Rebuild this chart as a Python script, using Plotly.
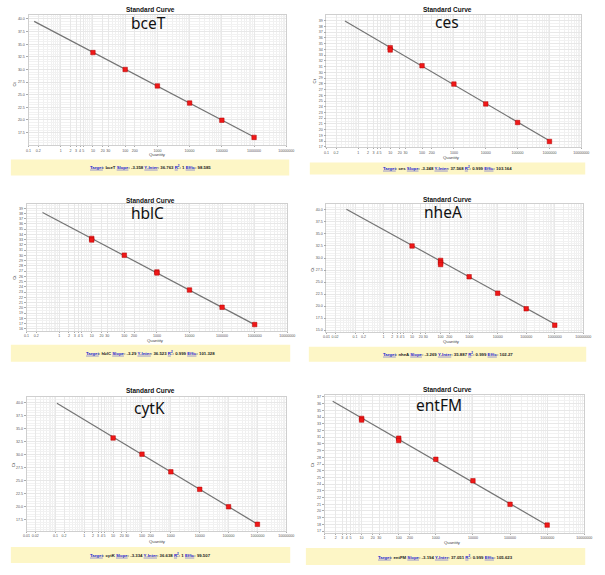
import math
import plotly.graph_objects as go

# ---------------- data ----------------
genes = ["bceT", "ces", "hblC", "nheA", "cytK", "entFM"]

qty_bceT = [10, 100, 1000, 10000, 100000, 1000000]
ct_bceT = [33.35, 30.0, 26.75, 23.35, 19.95, 16.55]

qty_ces = [10, 10, 100, 1000, 10000, 100000, 1000000]
ct_ces = [34.3, 33.9, 31.15, 27.95, 24.5, 21.25, 17.95]

qty_hblC = [10, 10, 100, 1000, 1000, 10000, 100000, 1000000]
ct_hblC = [33.25, 32.95, 30.05, 26.85, 26.65, 23.4, 20.1, 16.8]

qty_nheA = [10, 100, 100, 100, 1000, 10000, 100000, 1000000]
ct_nheA = [32.5, 29.5, 29.05, 28.65, 26.1, 22.7, 19.45, 16.05]

qty_cytK = [10, 100, 1000, 10000, 100000, 1000000]
ct_cytK = [33.15, 30.05, 26.65, 23.3, 19.95, 16.6]

qty_entFM = [10, 10, 100, 100, 1000, 10000, 100000, 1000000]
ct_entFM = [33.8, 33.55, 30.85, 30.5, 27.7, 24.5, 21.0, 17.9]

slopes = [-3.358, -3.248, -3.29, -3.269, -3.334, -3.194]
slope_txt = ["-3.358", "-3.248", "-3.29", "-3.269", "-3.334", "-3.194"]
intercepts = [36.763, 37.568, 36.523, 35.887, 36.638, 37.051]
intercept_txt = ["36.763", "37.568", "36.523", "35.887", "36.638", "37.051"]
r2_txt = ["1", "0.999", "0.999", "0.999", "1", "0.999"]
effic_txt = ["98.585", "103.164", "101.328", "102.27", "99.507", "105.623"]
line_start_qty = [0.15, 0.38, 0.31, 0.05, 0.113, 1.66]
line_end_qty = [1000000, 1000000, 1000000, 1000000, 1000000, 1000000]

xtick_vals_a = [0.1, 0.2, 1, 2, 3, 4, 5, 10, 20, 30, 100, 200, 1000, 10000, 100000, 1000000, 10000000]
xtick_text_a = ["0.1", "0.2", "1", "2", "3", "4", "5", "10", "20", "30", "100", "200", "1000",
                "10000", "100000", "1000000", "10000000"]
xtick_vals_b = [0.01, 0.02] + xtick_vals_a
xtick_text_b = ["0.01", "0.02"] + xtick_text_a
xtick_vals_c = xtick_vals_a[2:]
xtick_text_c = xtick_text_a[2:]

# ---------------- layout config ----------------
W, H = 605, 575
qtys = [qty_bceT, qty_ces, qty_hblC, qty_nheA, qty_cytK, qty_entFM]
cts = [ct_bceT, ct_ces, ct_hblC, ct_nheA, ct_cytK, ct_entFM]

panels = [
    dict(rect=(25, 15, 288, 146), xr=(-1, 7), yr=(14.95, 40.8), ystep=2.5, y0=17.5, y1=40, fmt=".1f",
         xt=(xtick_vals_a, xtick_text_a), title=(149, 10), gene=(147, 23), foot=(7, 160, 291, 176),
         qlab=(157, 155), ctlab=(11, 84)),
    dict(rect=(329, 15, 589, 148), xr=(-1, 7), yr=(16.9, 40.0), ystep=1, y0=17, y1=39, fmt="d",
         xt=(xtick_vals_a, xtick_text_a), title=(452, 10), gene=(452, 22), foot=(312, 163, 593, 175),
         qlab=(457, 158), ctlab=(317, 81)),
    dict(rect=(23, 205, 289, 332), xr=(-1, 7), yr=(15.6, 39.76), ystep=1, y0=16, y1=39, fmt="d",
         xt=(xtick_vals_a, xtick_text_a), title=(149, 201), gene=(146, 214), foot=(7, 346, 292, 363),
         qlab=(155, 342), ctlab=(10, 278)),
    dict(rect=(329, 205, 591, 333), xr=(-2, 7), yr=(14.66, 41.16), ystep=2.5, y0=15, y1=40, fmt=".1f",
         xt=(xtick_vals_b, xtick_text_b), title=(452, 200), gene=(448, 213), foot=(311, 348, 594, 363),
         qlab=(457, 343), ctlab=(314, 270)),
    dict(rect=(23, 398, 288, 533), xr=(-2, 7), yr=(15.28, 41.08), ystep=2.5, y0=17.5, y1=40, fmt=".1f",
         xt=(xtick_vals_b, xtick_text_b), title=(149, 392), gene=(148, 409), foot=(7, 549, 292, 565),
         qlab=(157, 543), ctlab=(10, 466)),
    dict(rect=(327, 396, 592, 535), xr=(0, 7), yr=(16.7, 37.34), ystep=1, y0=17, y1=37, fmt="d",
         xt=(xtick_vals_c, xtick_text_c), title=(452, 391), gene=(444, 406), foot=(308, 550, 593, 567),
         qlab=(458, 544), ctlab=(315, 466)),
]


def px(x):
    return x / W


def py(y):
    return 1 - y / H


fig = go.Figure()
annotations = []
shapes = []
layout = {}
LINK = "color:#2020d0;text-decoration:underline"


def ann(x, y, text, size, family, color="#111", angle=0):
    return dict(x=px(x), y=py(y), xref="paper", yref="paper", text=text, showarrow=False,
                xanchor="center", yanchor="middle", textangle=angle,
                font=dict(size=size, color=color, family=family))


for i, p in enumerate(panels):
    n = i + 1
    xs = "" if n == 1 else str(n)
    x0, y0, x1, y1 = p["rect"]
    # regression line from the printed slope / intercept
    lx = [line_start_qty[i], line_end_qty[i]]
    ly = [intercepts[i] + slopes[i] * math.log10(v) for v in lx]
    fig.add_trace(go.Scatter(x=lx, y=ly, mode="lines", line=dict(color="#747474", width=1.2),
                             xaxis="x" + xs, yaxis="y" + xs, showlegend=False, hoverinfo="skip"))
    fig.add_trace(go.Scatter(x=qtys[i], y=cts[i], mode="markers",
                             marker=dict(symbol="square", size=4.5, color="#f01818",
                                         line=dict(color="#b00000", width=0.5)),
                             xaxis="x" + xs, yaxis="y" + xs, showlegend=False))
    nt = int(round((p["y1"] - p["y0"]) / p["ystep"])) + 1
    ytv = [p["y0"] + k * p["ystep"] for k in range(nt)]
    tickfont = dict(size=3.6, color="#555", family="Liberation Sans")
    layout["xaxis" + xs] = dict(
        domain=[px(x0), px(x1)], anchor="y" + xs, type="log", range=list(p["xr"]),
        tickvals=p["xt"][0], ticktext=p["xt"][1], tickfont=tickfont, tickangle=0,
        ticks="outside", ticklen=1, tickcolor="#aaa", showgrid=True, gridcolor="#e8e8e8", gridwidth=0.6,
        minor=dict(dtick="D1", showgrid=True, gridcolor="#f0f0f0", gridwidth=0.5),
        showline=True, linecolor="#cfcfcf", linewidth=0.8, mirror=True, zeroline=False, fixedrange=True)
    layout["yaxis" + xs] = dict(
        domain=[py(y1), py(y0)], anchor="x" + xs, range=list(p["yr"]),
        tickvals=ytv, tickformat=p["fmt"], tickfont=tickfont,
        ticks="outside", ticklen=2, tickcolor="#aaa", showgrid=True, gridcolor="#e8e8e8", gridwidth=0.6,
        minor=dict(dtick=p["ystep"] / 5 if p["ystep"] > 1 else 0.5, showgrid=True, gridcolor="#f2f2f2",
                   gridwidth=0.5),
        showline=True, linecolor="#cfcfcf", linewidth=0.8, mirror=True, zeroline=False, fixedrange=True)
    annotations.append(ann(p["title"][0], p["title"][1], "<b>Standard Curve</b>", 6.5, "Liberation Sans"))
    annotations.append(ann(p["gene"][0], p["gene"][1], genes[i], 15.5, "Noto Sans"))
    annotations.append(ann(p["qlab"][0], p["qlab"][1], "Quantity", 4.3, "Liberation Sans", "#444"))
    annotations.append(ann(p["ctlab"][0], p["ctlab"][1], "Ct", 4.3, "Liberation Sans", "#444", -90))
    fx0, fy0, fx1, fy1 = p["foot"]
    shapes.append(dict(type="rect", xref="paper", yref="paper", x0=px(fx0), x1=px(fx1),
                       y0=py(fy1), y1=py(fy0), fillcolor="#fdf6c6", line=dict(width=0), layer="below"))
    ftxt = (f"<span style='{LINK}'>Target</span>: {genes[i]} "
            f"<span style='{LINK}'>Slope</span>: {slope_txt[i]} "
            f"<span style='{LINK}'>Y-Inter</span>: {intercept_txt[i]} "
            f"<span style='{LINK}'>R<sup>2</sup></span>: {r2_txt[i]} "
            f"<span style='{LINK}'>Effic</span>: {effic_txt[i]}")
    annotations.append(ann((fx0 + fx1) / 2, (fy0 + fy1) / 2, "<b>" + ftxt + "</b>", 4.3,
                           "Liberation Sans", "#222"))

fig.update_layout(width=W, height=H, margin=dict(l=0, r=0, t=0, b=0), autosize=False,
                  paper_bgcolor="white", plot_bgcolor="white",
                  annotations=annotations, shapes=shapes, **layout)
fig.write_html("out.html")
